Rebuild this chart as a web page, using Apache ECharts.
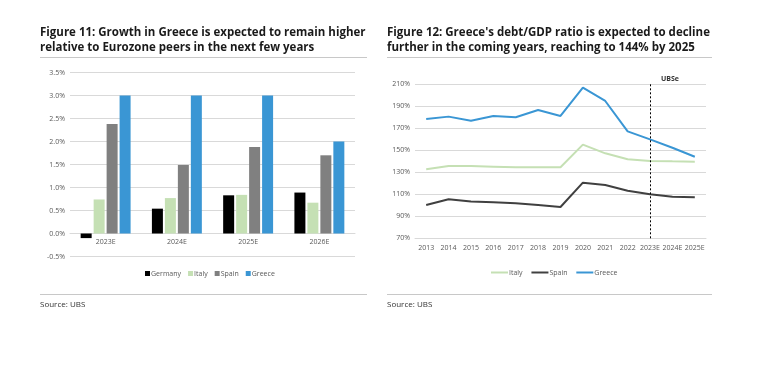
<!DOCTYPE html>
<html><head><meta charset="utf-8">
<script src="https://cdn.jsdelivr.net/npm/echarts@6/dist/echarts.min.js"></script>
<style>html,body{margin:0;padding:0;background:#fff}#c{width:759px;height:367px}</style>
</head><body><div id="c"></div>
<script>
// Figure 11 data
var barCategories = ['2023E', '2024E', '2025E', '2026E'];
var germany = [-0.1, 0.54, 0.83, 0.89];
var italyGrowth = [0.74, 0.77, 0.84, 0.67];
var spainGrowth = [2.38, 1.49, 1.88, 1.70];
var greeceGrowth = [3.0, 3.0, 3.0, 2.0];

// Figure 12 data
var years = ['2013', '2014', '2015', '2016', '2017', '2018', '2019', '2020', '2021', '2022', '2023E', '2024E', '2025E'];
var italyDebt = [132.6, 135.6, 135.6, 135.0, 134.4, 134.4, 134.4, 155.0, 147.1, 141.7, 140.2, 139.8, 139.5];
var spainDebt = [100.2, 105.4, 103.3, 102.7, 101.8, 100.2, 98.4, 120.5, 118.4, 113.2, 109.9, 107.8, 107.2];
var greeceDebt = [178.3, 180.4, 176.7, 181.0, 179.8, 186.4, 181.0, 206.7, 194.6, 167.0, 159.8, 152.2, 144.0];

var FONT = '"Open Sans", sans-serif';
var axisLbl = {color: '#595959', fontSize: 7, fontFamily: FONT};

var chart = echarts.init(document.getElementById('c'), null, {renderer: 'canvas'});
chart.setOption({
  animation: false,
  textStyle: {fontFamily: FONT},
  title: [
    {text: 'Figure 11: Growth in Greece is expected to remain higher\nrelative to Eurozone peers in the next few years',
     left: 40, top: 25, padding: 0, textStyle: {fontSize: 11.5, fontWeight: 'bold', color: '#1a1a1a', lineHeight: 15, fontFamily: FONT}},
    {text: "Figure 12: Greece's debt/GDP ratio is expected to decline\nfurther in the coming years, reaching to 144% by 2025",
     left: 387, top: 25, padding: 0, textStyle: {fontSize: 11.5, fontWeight: 'bold', color: '#1a1a1a', lineHeight: 15, fontFamily: FONT}}
  ],
  graphic: [
    {type: 'line', shape: {x1: 40, y1: 57.5, x2: 367, y2: 57.5}, style: {stroke: '#c8c8c8', lineWidth: 1}},
    {type: 'line', shape: {x1: 387, y1: 57.5, x2: 712, y2: 57.5}, style: {stroke: '#c8c8c8', lineWidth: 1}},
    {type: 'line', shape: {x1: 40, y1: 294.5, x2: 367, y2: 294.5}, style: {stroke: '#c8c8c8', lineWidth: 1}},
    {type: 'line', shape: {x1: 387, y1: 294.5, x2: 712, y2: 294.5}, style: {stroke: '#c8c8c8', lineWidth: 1}},
    {type: 'text', left: 40, top: 301, style: {text: 'Source: UBS', fontSize: 8, fill: '#333', fontFamily: FONT}},
    {type: 'text', left: 387, top: 301, style: {text: 'Source: UBS', fontSize: 8, fill: '#333', fontFamily: FONT}},
    {type: 'text', left: 661, top: 75, style: {text: 'UBSe', fontSize: 7, fontWeight: 'bold', fill: '#333', fontFamily: FONT}}
  ],
  legend: [
    {data: ['Germany', 'Italy', 'Spain', 'Greece'], left: 140, top: 265,
     itemWidth: 5, itemHeight: 5, itemGap: 7, icon: 'rect',
     textStyle: {fontSize: 7, color: '#595959', padding: [0, 0, 0, -4]}},
    {data: ['Italy ', 'Spain ', 'Greece '], left: 486, top: 264, icon: 'rect',
     itemWidth: 17, itemHeight: 2, itemGap: 7,
     textStyle: {fontSize: 7, color: '#595959', padding: [0, 0, 0, -4]}}
  ],
  grid: [
    {left: 70, right: 404, top: 72.5, bottom: 110.5},
    {left: 415, right: 53, top: 84, bottom: 128.7}
  ],
  xAxis: [
    {type: 'category', gridIndex: 0, data: barCategories,
     axisLine: {onZero: true, lineStyle: {color: '#d9d9d9'}}, axisTick: {show: false},
     axisLabel: Object.assign({margin: 5}, axisLbl)},
    {type: 'category', gridIndex: 1, data: years, boundaryGap: true,
     axisLine: {lineStyle: {color: '#d9d9d9'}}, axisTick: {show: false},
     axisLabel: Object.assign({margin: 6, interval: 0}, axisLbl)}
  ],
  yAxis: [
    {type: 'value', gridIndex: 0, min: -0.5, max: 3.5, interval: 0.5,
     axisLine: {show: false}, axisTick: {show: false},
     splitLine: {lineStyle: {color: '#d9d9d9'}},
     axisLabel: Object.assign({margin: 5, formatter: function (v) { return v.toFixed(1) + '%'; }}, axisLbl)},
    {type: 'value', gridIndex: 1, min: 70, max: 210, interval: 20,
     axisLine: {show: false}, axisTick: {show: false},
     splitLine: {lineStyle: {color: '#d9d9d9'}},
     axisLabel: Object.assign({margin: 5, formatter: function (v) { return v + '%'; }}, axisLbl)}
  ],
  series: [
    {name: 'Germany', type: 'bar', xAxisIndex: 0, yAxisIndex: 0, data: germany, barWidth: 11, barGap: '18%', itemStyle: {color: '#000000'}},
    {name: 'Italy', type: 'bar', xAxisIndex: 0, yAxisIndex: 0, data: italyGrowth, barWidth: 11, barGap: '18%', itemStyle: {color: '#c5e0b4'}},
    {name: 'Spain', type: 'bar', xAxisIndex: 0, yAxisIndex: 0, data: spainGrowth, barWidth: 11, barGap: '18%', itemStyle: {color: '#808080'}},
    {name: 'Greece', type: 'bar', xAxisIndex: 0, yAxisIndex: 0, data: greeceGrowth, barWidth: 11, barGap: '18%', itemStyle: {color: '#3a96d4'}},
    {name: 'Italy ', type: 'line', xAxisIndex: 1, yAxisIndex: 1, data: italyDebt, symbol: 'none',
     lineStyle: {color: '#c5e0b4', width: 2}, itemStyle: {color: '#c5e0b4'}},
    {name: 'Spain ', type: 'line', xAxisIndex: 1, yAxisIndex: 1, data: spainDebt, symbol: 'none',
     lineStyle: {color: '#404040', width: 2}, itemStyle: {color: '#404040'}},
    {name: 'Greece ', type: 'line', xAxisIndex: 1, yAxisIndex: 1, data: greeceDebt, symbol: 'none',
     lineStyle: {color: '#3a96d4', width: 2}, itemStyle: {color: '#3a96d4'},
     markLine: {silent: true, symbol: 'none', label: {show: false},
       lineStyle: {color: '#000', type: [2, 2], width: 1},
       data: [{xAxis: '2023E'}]}}
  ]
});
// Move the category axis of Figure 11 up to the zero line, using the library's own scale
var yZero = chart.convertToPixel({yAxisIndex: 0}, 0);
var yBottom = chart.convertToPixel({yAxisIndex: 0}, -0.5);
chart.setOption({xAxis: [{offset: -(yBottom - yZero)}, {}]});
</script></body></html>
